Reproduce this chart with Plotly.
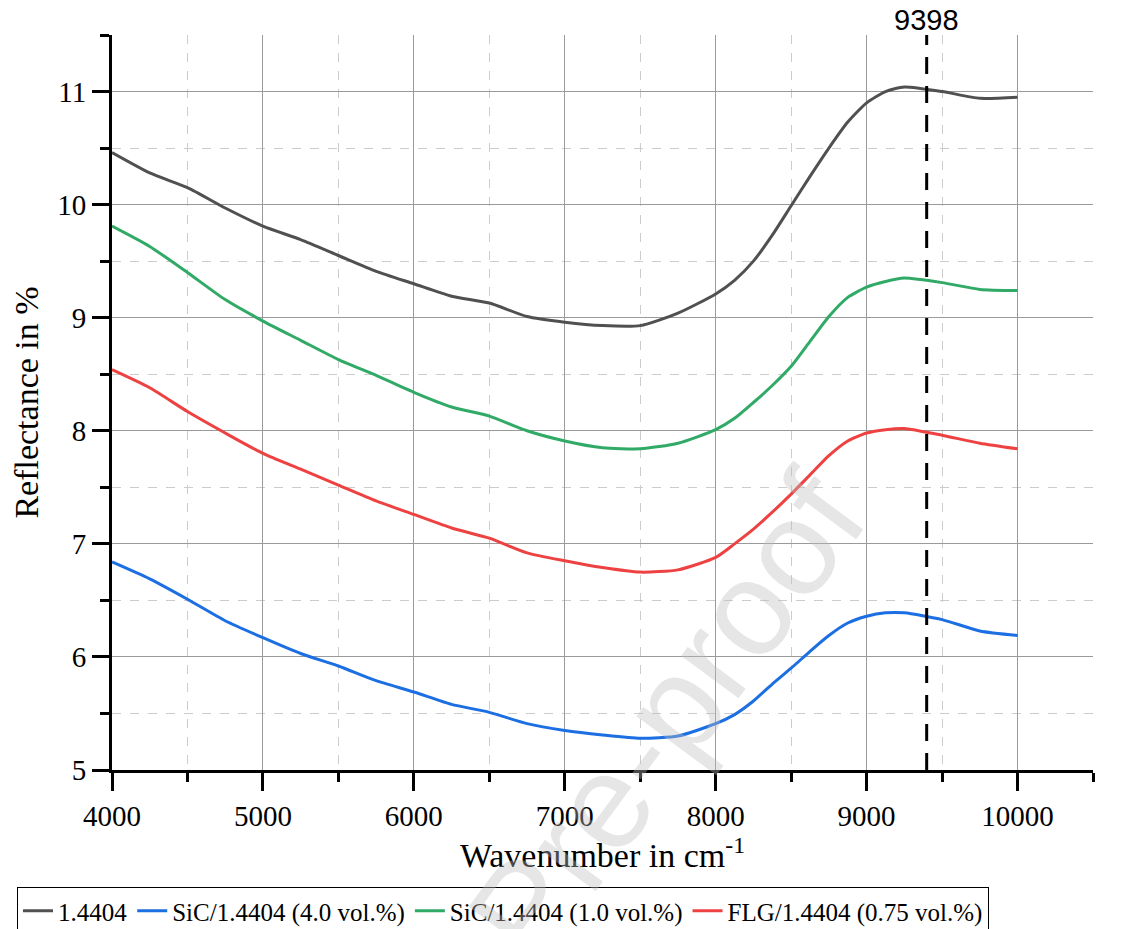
import plotly.graph_objects as go

wavenumber = [4000, 4250, 4500, 4750, 5000, 5250, 5500, 5750, 6000, 6250, 6500, 6750, 7000,
              7250, 7500, 7750, 8000, 8125, 8250, 8375, 8500, 8625, 8750, 8875, 9000, 9125,
              9250, 9500, 9750, 10000]

refl_1_4404 = [10.46, 10.28, 10.15, 9.97, 9.81, 9.69, 9.55, 9.41, 9.30, 9.19, 9.13, 9.01, 8.96,
               8.93, 8.93, 9.04, 9.21, 9.33, 9.50, 9.73, 9.99, 10.25, 10.50, 10.73, 10.90, 11.00,
               11.04, 11.00, 10.94, 10.95]
refl_sic_4 = [6.84, 6.69, 6.51, 6.32, 6.17, 6.03, 5.92, 5.79, 5.69, 5.58, 5.51, 5.41, 5.35,
              5.31, 5.28, 5.30, 5.41, 5.49, 5.61, 5.76, 5.90, 6.05, 6.19, 6.30, 6.36, 6.39,
              6.39, 6.33, 6.23, 6.19]
refl_sic_1 = [9.81, 9.63, 9.40, 9.16, 8.97, 8.80, 8.63, 8.49, 8.34, 8.21, 8.13, 8.00, 7.91,
              7.85, 7.84, 7.89, 8.01, 8.11, 8.25, 8.40, 8.57, 8.79, 9.01, 9.18, 9.27, 9.32,
              9.35, 9.31, 9.25, 9.24]
refl_flg = [8.54, 8.38, 8.17, 7.98, 7.80, 7.66, 7.52, 7.38, 7.26, 7.14, 7.05, 6.92, 6.85,
            6.79, 6.75, 6.77, 6.88, 7.00, 7.13, 7.28, 7.44, 7.61, 7.78, 7.91, 7.98, 8.01,
            8.02, 7.96, 7.89, 7.84]

series_names = ["1.4404", "SiC/1.4404 (4.0 vol.%)", "SiC/1.4404 (1.0 vol.%)", "FLG/1.4404 (0.75 vol.%)"]
series_values = [refl_1_4404, refl_sic_4, refl_sic_1, refl_flg]
series_colors = ["#505050", "#1c6fe2", "#30aa66", "#ee4242"]

x_tickvals = [4000, 5000, 6000, 7000, 8000, 9000, 10000]
y_tickvals = [5, 6, 7, 8, 9, 10, 11]

marker_x = 9398
marker_label = "9398"

fig = go.Figure()
for name, vals, col in zip(series_names, series_values, series_colors):
    fig.add_trace(go.Scatter(x=wavenumber, y=vals, mode="lines", name=name,
                             line=dict(color=col, width=3, shape="spline", smoothing=0.6)))

fig.add_trace(go.Scatter(x=[marker_x, marker_x], y=[5, 11.5], mode="lines", showlegend=False,
                         line=dict(color="black", width=3, dash="17px,12px")))

fig.add_annotation(x=marker_x, y=1.0, xref="x", yref="paper", xanchor="center", yanchor="bottom",
                   showarrow=False, text=marker_label, yshift=-3,
                   font=dict(family="Liberation Sans", size=29, color="black"))

fig.add_annotation(x=0.565, y=0.072, xref="paper", yref="paper", xanchor="center", yanchor="middle",
                   showarrow=False, text="Pre-proof", textangle=-53.5,
                   font=dict(family="Liberation Sans", size=135, color="rgba(190,190,190,0.38)"))

tickfont = dict(family="Liberation Serif", size=29, color="black")
titlefont = dict(family="Liberation Serif", size=34, color="black")

fig.update_layout(
    width=1121, height=921,
    paper_bgcolor="white", plot_bgcolor="white",
    margin=dict(l=104, r=36, t=27, b=159),
    xaxis=dict(range=[4000, 10500], tickvals=x_tickvals, tickformat="d", automargin=False,
               ticks="outside", ticklen=18, tickwidth=3, tickcolor="black",
               showline=True, linecolor="black", linewidth=3,
               showgrid=True, gridcolor="#9a9a9a", gridwidth=1.3,
               tickfont=tickfont, zeroline=False,
               title=dict(text="Wavenumber in cm<sup>-1</sup>", font=titlefont, standoff=8),
               minor=dict(dtick=500, tick0=4000, ticks="outside", ticklen=9, tickwidth=3, tickcolor="black",
                          showgrid=True, gridcolor="#cccccc", griddash="dash", gridwidth=1)),
    yaxis=dict(range=[5, 11.5], tickvals=y_tickvals, automargin=False,
               ticks="outside", ticklen=17, tickwidth=3, tickcolor="black",
               showline=True, linecolor="black", linewidth=3,
               showgrid=True, gridcolor="#9a9a9a", gridwidth=1.3,
               tickfont=tickfont, zeroline=False,
               title=dict(text="Reflectance in %", font=titlefont, standoff=16),
               minor=dict(dtick=0.5, tick0=5, ticks="outside", ticklen=9, tickwidth=3, tickcolor="black",
                          showgrid=True, gridcolor="#cccccc", griddash="dash", gridwidth=1)),
    legend=dict(orientation="h", xref="container", yref="container",
                x=0.008, xanchor="left", y=0.0456, yanchor="top",
                bordercolor="black", borderwidth=1, bgcolor="white",
                font=dict(family="Liberation Serif", size=25, color="black"),
                itemwidth=30, tracegroupgap=0),
)

fig.write_html("out.html")
